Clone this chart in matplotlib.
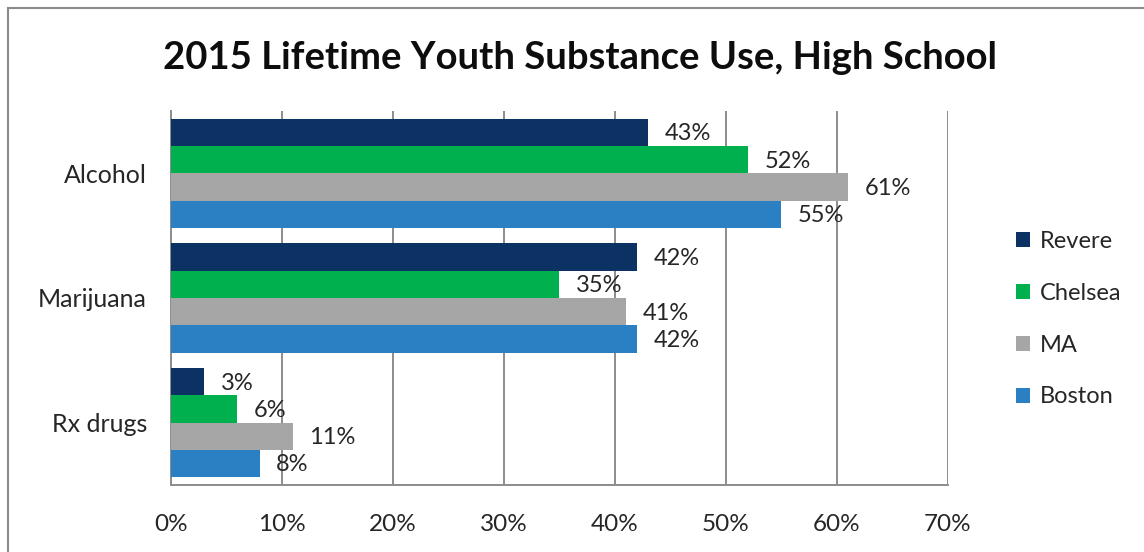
import numpy as np
import matplotlib.pyplot as plt
from matplotlib.patches import Rectangle

plt.rcParams['font.family'] = ['Lato', 'DejaVu Sans']

# === Survey data (percent, lifetime use) ===
substances = ['Alcohol', 'Marijuana', 'Rx drugs']
groups = ['Revere', 'Chelsea', 'MA', 'Boston']
revere = [43, 42, 3]
chelsea = [52, 35, 6]
ma = [61, 41, 11]
boston = [55, 42, 8]

colors = ['#0c3263', '#00b04f', '#a6a6a6', '#2a80c2']
series = [revere, chelsea, ma, boston]

fig = plt.figure(figsize=(11.44, 5.52), dpi=100)
ax = fig.add_axes([0.1492, 0.1214, 0.6795, 0.6775])

y = np.arange(len(substances))
bar_h = 0.219
for i, (name, vals, c) in enumerate(zip(groups, series, colors)):
    pos = y - 1.5 * bar_h + i * bar_h
    ax.barh(pos, vals, height=bar_h, color=c, label=name, zorder=3)
    for p, v in zip(pos, vals):
        ax.annotate(f'{v}%', (v, p), xytext=(12, -1), textcoords='offset points',
                    va='center', ha='left', fontsize=17, color='#262626', zorder=4)

ax.set_xlim(0, 70)
ax.set_ylim(2.5, -0.5)
ax.set_xticks(np.arange(0, 71, 10))
ax.set_xticklabels([f'{t}%' for t in range(0, 71, 10)])
ax.set_yticks(y)
ax.set_yticklabels(substances)
ax.tick_params(axis='x', length=0, pad=21, labelsize=17.5, labelcolor='#262626')
ax.tick_params(axis='y', length=0, pad=17, labelsize=18, labelcolor='#262626')
ax.grid(axis='x', color='#8c8c8c', linewidth=1.4, zorder=0)
for s in ['top', 'right']:
    ax.spines[s].set_visible(False)
for s in ['left', 'bottom']:
    ax.spines[s].set_color('#8c8c8c')
    ax.spines[s].set_linewidth(1.4)

fig.text(0.507, 0.895, '2015 Lifetime Youth Substance Use, High School',
         ha='center', va='center', fontsize=27.5, fontweight='bold', color='#0d0d0d')

ax.legend(loc='center left', bbox_to_anchor=(1.06, 0.443), frameon=False,
          fontsize=17, handlelength=0.6, handleheight=0.6, handletextpad=0.4,
          labelspacing=1.3, labelcolor='#262626')

# chart frame
fig.patches.append(Rectangle((8 / 1144, -0.2), 2.0, 1.2 - 8 / 552, transform=fig.transFigure,
                             fill=False, edgecolor='#8a8a8a', linewidth=1.5))

fig.savefig('out.png', dpi=100)
